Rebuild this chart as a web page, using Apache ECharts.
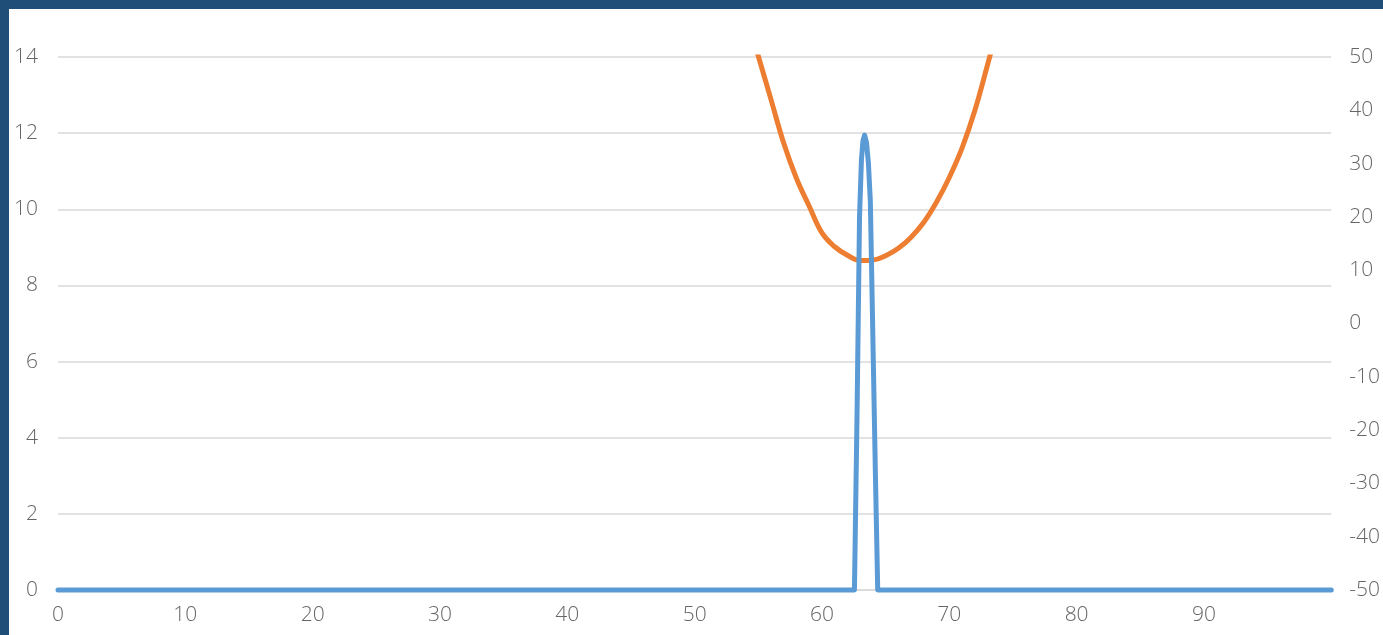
<!DOCTYPE html>
<html>
<head>
<meta charset="utf-8">
<script src="https://cdn.jsdelivr.net/npm/echarts@6/dist/echarts.min.js"></script>
<style>
html,body{margin:0;padding:0;background:#fff;}
#wrap{position:absolute;left:0;top:0;width:1383px;height:635px;box-sizing:border-box;border-left:9px solid #1F4E79;border-top:9px solid #1F4E79;}
#chart{position:absolute;left:0;top:0;width:1383px;height:635px;}
</style>
</head>
<body>
<div id="chart"></div>
<div id="wrap"></div>
<script>
// X axis range and tick labels
const xTicks = [0, 10, 20, 30, 40, 50, 60, 70, 80, 90];
const leftTicks = [0, 2, 4, 6, 8, 10, 12, 14];
const rightTicks = [-50, -40, -30, -20, -10, 0, 10, 20, 30, 40, 50];

// Blue series (left axis)
const blueX = [0, 62.55, 62.75, 62.95, 63.1, 63.22, 63.35, 63.5, 63.65, 63.8, 64.0, 64.2, 64.38, 100];
const blueY = [0, 0, 4.5, 9.8, 11.3, 11.8, 11.95, 11.75, 11.2, 10.2, 6.6, 3.0, 0, 0];

// Orange series (right axis)
const orangeX = [54, 55, 56, 57, 58, 59, 60, 61, 62, 63, 64, 65, 66, 67, 68, 69, 70, 71, 72, 73, 74];
const orangeY = [58.5, 50.2, 42.0, 33.8, 27.2, 22.0, 17.0, 14.4, 12.8, 11.8, 11.9, 12.7, 14.1, 16.2, 19.0, 22.8, 27.4, 32.9, 39.9, 48.5, 57.5];

const blueData = blueX.map((x, i) => [x, blueY[i]]);
const orangeData = orangeX.map((x, i) => [x, orangeY[i]]);

const font = "'Open Sans', 'Noto Sans', sans-serif";
const lbl = {color: '#666666', fontSize: 21, fontFamily: font, fontWeight: 300};
const chart = echarts.init(document.getElementById('chart'), null, {renderer: 'canvas'});
chart.setOption({
  animation: false,
  backgroundColor: '#fff',
  grid: {left: 58, right: 49, top: 57, bottom: 45, containLabel: false},
  xAxis: {
    type: 'value', min: xTicks[0], max: 100, interval: 10,
    axisLine: {show: true, lineStyle: {color: '#D9D9D9', width: 1.5}},
    axisTick: {show: false},
    splitLine: {show: false},
    axisLabel: Object.assign({margin: 15, showMaxLabel: false}, lbl)
  },
  yAxis: [{
    type: 'value', min: leftTicks[0], max: leftTicks[leftTicks.length - 1], interval: 2,
    axisLine: {show: false}, axisTick: {show: false},
    splitLine: {show: true, lineStyle: {color: '#D9D9D9', width: 1.5}},
    axisLabel: Object.assign({margin: 20}, lbl)
  }, {
    type: 'value', min: rightTicks[0], max: rightTicks[rightTicks.length - 1], interval: 10,
    position: 'right',
    axisLine: {show: false}, axisTick: {show: false},
    splitLine: {show: false},
    axisLabel: Object.assign({margin: 18, align: 'left'}, lbl)
  }],
  series: [{
    type: 'line', yAxisIndex: 1, data: orangeData, smooth: 0.4, showSymbol: false,
    lineStyle: {color: '#ED7D31', width: 5, cap: 'round', join: 'round'}, clip: true, z: 2
  }, {
    type: 'line', yAxisIndex: 0, data: blueData, smooth: false, showSymbol: false,
    lineStyle: {color: '#5B9BD5', width: 5, cap: 'round', join: 'round'}, clip: false, z: 3
  }]
});
</script>
</body>
</html>
